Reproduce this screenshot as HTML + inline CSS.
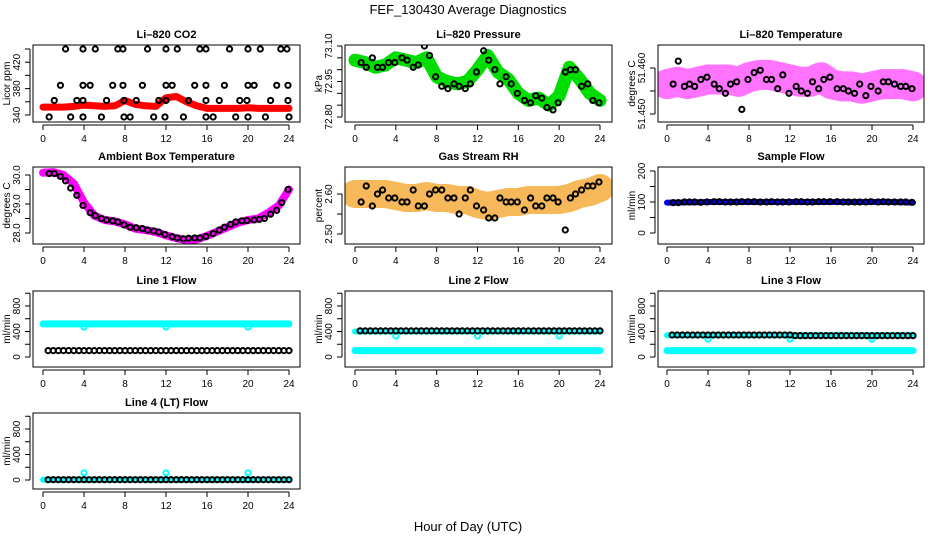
<!DOCTYPE html>
<html><head><meta charset="utf-8">
<style>
html,body{margin:0;padding:0;background:#fff;}
svg{display:block;font-family:"Liberation Sans",sans-serif;}
</style></head>
<body>
<svg id="chart" width="936" height="540" viewBox="0 0 936 540" xmlns="http://www.w3.org/2000/svg">
<text x="468" y="14" text-anchor="middle" font-size="13">FEF_130430  Average Diagnostics</text>
<text x="468" y="531" text-anchor="middle" font-size="13">Hour of Day (UTC)</text>
</svg>
<script>
// ---- data ----
const hours = [0,1,2,3,4,5,6,7,8,9,10,11,12,13,14,15,16,17,18,19,20,21,22,23,24];
const ptTimes = [0.6,1.1,1.7,2.2,2.7,3.3,3.9,4.6,5.1,5.7,6.2,6.8,7.3,7.9,8.5,9.1,9.7,10.2,10.8,11.3,11.9,12.6,13.1,13.7,14.2,14.8,15.3,15.9,16.6,17.2,17.7,18.3,18.8,19.4,19.9,20.6,21.1,21.6,22.2,22.8,23.3,23.9];
const flowTimes = [0.5,1,1.5,2,2.5,3,3.5,4,4.5,5,5.5,6,6.5,7,7.5,8,8.5,9,9.5,10,10.5,11,11.5,12,12.5,13,13.5,14,14.5,15,15.5,16,16.5,17,17.5,18,18.5,19,19.5,20,20.5,21,21.5,22,22.5,23,23.5,24];
const xTicks = [0,4,8,12,16,20,24];

const co2Band = [352,352,352,353,355,354,353,354,362,356,354,353,366,368,360,354,350,350,350,350,351,350,350,350,350];
const co2Times = [2.2,3.9,5.1,7.3,7.8,10.2,12.0,13.1,15.3,15.9,18.2,20.0,21.2,23.2,23.8, 1.7,3.9,4.6,6.8,7.8,9.7,12.0,12.6,14.8,15.9,17.7,20.0,20.6,22.8,23.9, 1.1,3.3,3.9,6.2,7.9,9.1,11.3,12.0,14.2,15.9,17.2,19.2,19.9,22.2,23.9, 0.6,2.7,3.9,5.7,7.9,8.5,10.8,11.9,13.7,15.9,16.6,18.8,20.0,21.7,24.0];
const co2Vals = [440,440,440,440,440,440,440,440,440,440,440,440,440,440,440, 385,385,385,385,385,385,385,385,385,385,385,385,385,385,385, 362,362,362,362,362,362,362,362,362,362,362,362,362,362,362, 337,337,337,337,337,337,337,337,337,337,337,337,337,337,337];

const pressBand = [73.04,73.03,73.01,73.02,73.05,73.04,73.03,73.05,72.97,72.95,72.94,72.95,73.00,73.06,72.99,72.96,72.90,72.87,72.88,72.85,72.89,73.01,72.96,72.90,72.87];
const pressVals = [73.03,73.01,73.05,73.01,73.01,73.03,73.03,73.05,73.04,73.01,73.02,73.10,73.06,72.97,72.93,72.92,72.94,72.93,72.92,72.94,72.99,73.08,73.04,73.00,72.94,72.97,72.94,72.90,72.87,72.86,72.89,72.88,72.84,72.83,72.86,72.99,73.00,73.00,72.93,72.94,72.87,72.86];

const ltBand = [51.4565,51.4570,51.4565,51.4570,51.4575,51.4575,51.4575,51.4570,51.4580,51.4585,51.4585,51.4580,51.4575,51.4570,51.4570,51.4580,51.4565,51.4560,51.4560,51.4555,51.4560,51.4565,51.4565,51.4565,51.4560];
const ltVals = [51.4565,51.4615,51.4560,51.4565,51.4560,51.4575,51.4580,51.4565,51.4555,51.4545,51.4565,51.4570,51.4510,51.4575,51.4590,51.4595,51.4575,51.4575,51.4555,51.4585,51.4545,51.4560,51.4550,51.4545,51.4570,51.4555,51.4575,51.4580,51.4555,51.4555,51.4550,51.4545,51.4565,51.4540,51.4560,51.4550,51.4570,51.4570,51.4565,51.4560,51.4560,51.4555];

const ambBand = [30.08,30.1,30.0,29.7,29.05,28.6,28.45,28.4,28.3,28.15,28.1,28.03,27.92,27.82,27.76,27.78,27.9,28.05,28.2,28.35,28.45,28.5,28.7,28.95,29.5];
const ambVals = [30.05,30.05,29.95,29.8,29.55,29.3,28.95,28.7,28.6,28.5,28.45,28.42,28.38,28.28,28.2,28.18,28.15,28.1,28.07,28.03,27.95,27.87,27.83,27.8,27.82,27.83,27.83,27.88,27.98,28.1,28.2,28.3,28.38,28.42,28.43,28.45,28.47,28.5,28.65,28.78,29.05,29.5];

const rhBand = [2.600,2.600,2.600,2.600,2.595,2.590,2.590,2.595,2.590,2.590,2.585,2.585,2.575,2.570,2.575,2.580,2.580,2.585,2.585,2.585,2.585,2.590,2.600,2.605,2.615];
const rhVals = [2.58,2.62,2.57,2.60,2.61,2.59,2.59,2.58,2.58,2.61,2.57,2.57,2.60,2.61,2.61,2.59,2.59,2.55,2.59,2.61,2.57,2.56,2.54,2.54,2.59,2.58,2.58,2.58,2.56,2.59,2.57,2.57,2.59,2.59,2.58,2.51,2.59,2.60,2.61,2.62,2.62,2.63];

const sampleBand = [98,98,99,99,100,100,100,100,100,100,100,100,100,100,100,100,100,100,100,100,100,100,100,99,98];
const sampleVals = [98,98,100,100,100,99,100,101,101,100,100,100,101,101,101,100,100,101,100,100,100,101,101,100,100,101,101,101,101,100,100,100,100,100,101,100,101,100,100,100,100,99];

const line1Cyan = [520,520,520,520,520,520,520,520,520,520,520,520,520,520,520,520,520,520,520,520,520,520,520,520,520];
const line1Black = [100,100,100,100,100,100,100,100,100,100,100,100,100,100,100,100,100,100,100,100,100,100,100,100,100,100,100,100,100,100,100,100,100,100,100,100,100,100,100,100,100,100,100,100,100,100,100,100];
const line2Cyan = [100,100,100,100,100,100,100,100,100,100,100,100,100,100,100,100,100,100,100,100,100,100,100,100,100];
const line2Cyan2 = [400,400,400,400,400,400,400,400,400,400,400,400,400,400,400,400,400,400,400,400,400,400,400,400,400];
const line2Black = [410,410,410,410,410,410,410,410,410,410,410,410,410,410,410,410,410,410,410,410,410,410,410,410,410,410,410,410,410,410,410,410,410,410,410,410,410,410,410,410,410,410,410,410,410,410,410,410];
const line3Cyan = [100,100,100,100,100,100,100,100,100,100,100,100,100,100,100,100,100,100,100,100,100,100,100,100,100];
const line3Cyan2 = [340,340,340,340,340,340,340,340,340,340,340,340,340,340,340,340,340,340,340,340,340,340,340,340,340];
const line3Black = [345,345,345,345,345,345,345,345,345,345,345,345,345,345,345,345,345,345,345,345,345,345,345,345,335,335,335,335,335,335,335,335,335,335,335,335,335,335,335,335,335,335,335,335,335,335,335,335];
const line4Cyan = [5,5,5,5,5,5,5,5,5,5,5,5,5,5,5,5,5,5,5,5,5,5,5,5,5];
const line4Black = [5,5,5,5,5,5,5,5,5,5,5,5,5,5,5,5,5,5,5,5,5,5,5,5,5,5,5,5,5,5,5,5,5,5,5,5,5,5,5,5,5,5,5,5,5,5,5,5];
const outTimes = [4,12,20];
const line1Out = [470,470,470];
const line2Out = [330,330,330];
const line3Out = [280,280,280];
const line4Out = [110,110,110];

// ---- layout ----
const NS = 'http://www.w3.org/2000/svg';
const svg = document.getElementById('chart');
const cols = [{bl:33,br:300,h0:43,h24:289},{bl:345,br:612,h0:355,h24:600},{bl:658,br:924,h0:667,h24:913}];
const rows = [{bt:45,bb:122},{bt:167,bb:244},{bt:291,bb:367},{bt:413,bb:489}];

function el(tag, attrs, parent){
  const e = document.createElementNS(NS, tag);
  for (const k in attrs) e.setAttribute(k, attrs[k]);
  (parent||svg).appendChild(e);
  return e;
}

function makePanel(name, title, ylab, col, row, v0, p0, v1, p1, yTicks, yLabels, fmt){
  const c = cols[col], r = rows[row];
  const g = el('g', {});
  
  
  const xs = h => c.h0 + (h/24)*(c.h24 - c.h0);
  const ys = v => p0 + (v - v0)/(v1 - v0)*(p1 - p0);
  const cp = el('clipPath', {id: 'clip-' + name}, g);
  el('rect', {x:c.bl, y:r.bt, width:c.br-c.bl, height:r.bb-r.bt}, cp);
  const plot = el('g', {'clip-path': 'url(#clip-' + name + ')'}, g);
  
  
  const box = el('rect', {x:c.bl, y:r.bt, width:c.br-c.bl, height:r.bb-r.bt, fill:'none', stroke:'#000', 'stroke-width':1}, g);
  
  
  const t = el('text', {x:(c.bl+c.br)/2, y:r.bt-7, 'text-anchor':'middle', 'font-size':11, 'font-weight':'bold'}, g);
  t.textContent = title;
  
  
  const xa = el('g', {}, g);
  
  
  const ay = r.bb + 3;
  el('line', {x1:xs(0), x2:xs(24), y1:ay, y2:ay, stroke:'#000'}, xa);
  xTicks.forEach(h => {
    el('line', {x1:xs(h), x2:xs(h), y1:ay, y2:ay+5, stroke:'#000'}, xa);
    const tl = el('text', {x:xs(h), y:r.bb+20, 'text-anchor':'middle', 'font-size':10}, xa);
    tl.textContent = h;
    
    
  });
  const ya = el('g', {}, g);
  
  
  const ax = c.bl - 3;
  el('line', {x1:ax, x2:ax, y1:ys(yTicks[0]), y2:ys(yTicks[yTicks.length-1]), stroke:'#000'}, ya);
  yTicks.forEach(v => el('line', {x1:ax-5, x2:ax, y1:ys(v), y2:ys(v), stroke:'#000'}, ya));
  yLabels.forEach(v => {
    const tx = c.bl - 13, ty = ys(v);
    const tl = el('text', {x:tx, y:ty, 'text-anchor':'middle', 'font-size':10, transform:'rotate(-90 '+tx+' '+ty+')'}, ya);
    tl.textContent = fmt(v);
    
    
  });
  const lx = c.bl - 23, ly = (r.bt + r.bb)/2;
  const yl = el('text', {x:lx, y:ly, 'text-anchor':'middle', 'font-size':10, transform:'rotate(-90 '+lx+' '+ly+')'}, g);
  yl.textContent = ylab;
  
  
  return {plot, xs, ys};
}

function band(P, name, times, vals, color, width, opacity){
  const pts = times.map((h,i) => P.xs(h).toFixed(1) + ',' + P.ys(vals[i]).toFixed(1)).join(' ');
  const pl = el('polyline', {points:pts, fill:'none', stroke:color, 'stroke-width':width, 'stroke-linejoin':'round', 'stroke-linecap':'round', opacity:opacity||1}, P.plot);
  
  
}
function points(P, name, times, vals, color, r, sw){
  const g = el('g', {}, P.plot);
  
  
  times.forEach((h,i) => {
    const c = el('circle', {cx:P.xs(h), cy:P.ys(vals[i]), r:r||2.6, fill:'none', stroke:color, 'stroke-width':sw||2}, g);
    
    
  });
}
const f0 = v => String(v);
const f1 = v => v.toFixed(1);
const f2 = v => v.toFixed(2);
const f3 = v => v.toFixed(3);

let P = makePanel('co2', 'Li\u2013820 CO2', 'Licor ppm', 0, 0, 340, 115, 440, 49, [340,360,380,400,420,440], [340,380,420], f0);
band(P, 'co2-band', hours, co2Band, '#ff0000', 7);
points(P, 'co2-points', co2Times, co2Vals, '#000');
P = makePanel('pressure', 'Li\u2013820 Pressure', 'kPa', 1, 0, 72.80, 117, 73.10, 46, [72.80,72.85,72.90,72.95,73.00,73.05,73.10], [72.80,72.95,73.10], f2);
band(P, 'pressure-band', hours, pressBand, '#00dd00', 13);
points(P, 'pressure-points', ptTimes, pressVals, '#000');
P = makePanel('li-temp', 'Li\u2013820 Temperature', 'degrees C', 2, 0, 51.450, 114, 51.460, 68, [51.450,51.455,51.460], [51.450,51.460], f3);
band(P, 'li-temp-band', hours, ltBand, '#ff00ff', 30, 0.55);
points(P, 'li-temp-points', ptTimes, ltVals, '#000');
P = makePanel('ambient-temp', 'Ambient Box Temperature', 'degrees C', 0, 1, 28, 233, 30, 175, [28,28.5,29,29.5,30], [28,29,30], f1);
band(P, 'ambient-band', hours, ambBand, '#ff00ff', 8);
points(P, 'ambient-points', ptTimes, ambVals, '#000');
P = makePanel('rh', 'Gas Stream RH', 'percent', 1, 1, 2.50, 234, 2.60, 194, [2.50,2.55,2.60], [2.50,2.60], f2);
band(P, 'rh-band', hours, rhBand, '#f3a020', 28, 0.75);
points(P, 'rh-points', ptTimes, rhVals, '#000');
P = makePanel('sample-flow', 'Sample Flow', 'ml/min', 2, 1, 0, 233, 200, 171, [0,50,100,150,200], [0,100,200], f0);
band(P, 'sample-band', hours, sampleBand, '#0000ee', 6);
points(P, 'sample-points', ptTimes, sampleVals, '#000');
const flowTicks = [0,200,400,600,800,1000], flowLabels = [0,400,800];
P = makePanel('line1-flow', 'Line 1 Flow', 'ml/min', 0, 2, 0, 357, 800, 306, flowTicks, flowLabels, f0);
band(P, 'line1-cyan-band', hours, line1Cyan, '#00ffff', 7);
points(P, 'line1-cyan-outliers', outTimes, line1Out, '#00ffff', 2.6, 2);
points(P, 'line1-points', flowTimes, line1Black, '#000');
P = makePanel('line2-flow', 'Line 2 Flow', 'ml/min', 1, 2, 0, 357, 800, 306, flowTicks, flowLabels, f0);
band(P, 'line2-cyan-band', hours, line2Cyan, '#00ffff', 7);
band(P, 'line2-cyan-band-2', hours, line2Cyan2, '#00ffff', 6);
points(P, 'line2-cyan-outliers', outTimes, line2Out, '#00ffff', 2.6, 2);
points(P, 'line2-points', flowTimes, line2Black, '#000');
P = makePanel('line3-flow', 'Line 3 Flow', 'ml/min', 2, 2, 0, 357, 800, 306, flowTicks, flowLabels, f0);
band(P, 'line3-cyan-band', hours, line3Cyan, '#00ffff', 7);
band(P, 'line3-cyan-band-2', hours, line3Cyan2, '#00ffff', 6);
points(P, 'line3-cyan-outliers', outTimes, line3Out, '#00ffff', 2.6, 2);
points(P, 'line3-points', flowTimes, line3Black, '#000');
P = makePanel('line4-flow', 'Line 4 (LT) Flow', 'ml/min', 0, 3, 0, 480, 800, 429, flowTicks, flowLabels, f0);
band(P, 'line4-cyan-band', hours, line4Cyan, '#00ffff', 6);
points(P, 'line4-cyan-outliers', outTimes, line4Out, '#00ffff', 2.6, 2);
points(P, 'line4-points', flowTimes, line4Black, '#000');
</script>
</body></html>
